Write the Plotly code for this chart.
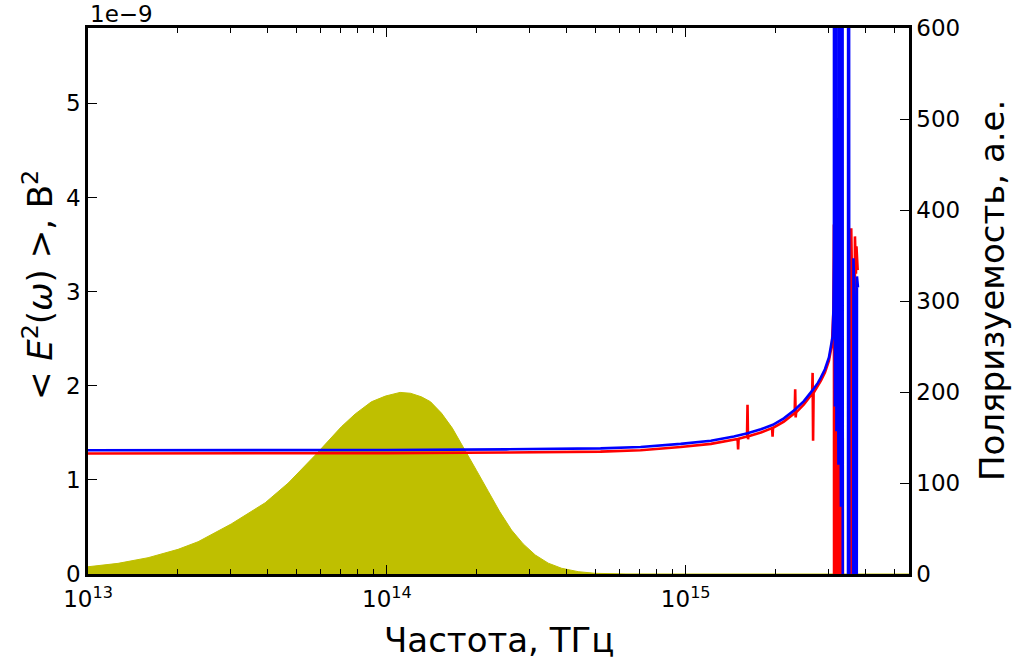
import plotly.graph_objects as go

# ---------------- data ----------------
# log10 of frequency for the spectrum (yellow fill), values in V^2
spec_lg = [13.000, 13.1005, 13.201, 13.3015, 13.3685, 13.479, 13.593, 13.670, 13.7605,
           13.8476, 13.894, 13.9481, 13.995, 14.0442, 14.079, 14.1156, 14.146, 14.1826,
           14.219, 14.262, 14.300, 14.340, 14.378, 14.4171, 14.456, 14.4965, 14.54,
           14.5846, 14.64, 14.6975, 14.80, 15.0, 15.75]
spec_val = [0.077e-9, 0.113e-9, 0.173e-9, 0.262e-9, 0.343e-9, 0.531e-9, 0.757e-9, 0.966e-9,
            1.263e-9, 1.564e-9, 1.70e-9, 1.829e-9, 1.89e-9, 1.929e-9, 1.92e-9, 1.882e-9,
            1.83e-9, 1.709e-9, 1.55e-9, 1.316e-9, 1.10e-9, 0.874e-9, 0.66e-9, 0.467e-9,
            0.32e-9, 0.202e-9, 0.115e-9, 0.061e-9, 0.025e-9, 0.007e-9, 0.001e-9, 0.0, 0.0]

# polarizability (a.u.), blue series, vs log10 frequency
blue_lg = [13.0, 13.5, 14.0, 14.4, 14.715, 14.849, 14.983, 15.084, 15.161, 15.2067,
           15.2513, 15.2915, 15.3283, 15.365, 15.3953, 15.4245, 15.4422, 15.4523, 15.4657,
           15.4791, 15.4915,
           15.49414, 15.49581, 15.49749, 15.49916, 15.50084, 15.50251, 15.50419, 15.50586,
           15.50754, 15.50921, 15.51089, 15.51256, 15.51424, 15.51591, 15.51759, 15.51926,
           15.52094, 15.52261, 15.52429, 15.52596, 15.54271, 15.54439, 15.54774, 15.55879,
           15.56114, 15.56449, 15.56549, 15.57119, 15.57286, 15.57621]
blue_val = [136, 136, 136.3, 137, 138, 139.5, 143, 146.5, 151, 154.6,
            159, 164, 171, 180.5, 190, 202, 210, 216, 225,
            238, 261,
            290, 349, 2500, 184, 340, 2500, 157, 330,
            160, 320, 120, 310, 2500, 120, 300, 74,
            290, 2500, 74, -500, -500, 2500, -500, -500,
            347, 300, -500, -500, 327, 315]

# polarizability (a.u.), red series, vs log10 frequency
red_lg = [13.0, 13.5, 14.0, 14.4, 14.715, 14.849, 14.983, 15.084, 15.161,
          15.1735, 15.1752, 15.1769, 15.2050, 15.2067, 15.2084, 15.2101,
          15.2513, 15.2888, 15.2905, 15.2921, 15.3283,
          15.3645, 15.3662, 15.3678, 15.3695, 15.3953,
          15.4228, 15.4245, 15.4261, 15.4278, 15.4422, 15.4523, 15.4657, 15.4791, 15.4891,
          15.49414, 15.49581, 15.49682, 15.49849, 15.50017, 15.50184, 15.50352, 15.50519,
          15.50687, 15.50854, 15.51022, 15.51189, 15.51357, 15.51524, 15.51692, 15.51859,
          15.52027, 15.52194, 15.52362, 15.52529, 15.52697, 15.55209, 15.55377, 15.55712,
          15.55879, 15.56382, 15.56616, 15.56951, 15.57119, 15.57521]
red_val = [132.5, 132.5, 132.8, 133.5, 134.5, 136, 139.5, 143, 147.5,
           148.3, 137, 148.7, 151, 186, 148, 151.3,
           155.5, 160.3, 151, 160.7, 167.5,
           176.8, 203, 172, 177.5, 186.5,
           198, 221, 146.5, 199, 206.5, 212.5, 221.5, 234.5, 252,
           290, 384, -500, 184, -500, 184, -500, 170,
           -500, 150, -500, 362, -500, 150, -500, 2500,
           -500, 150, -500, 150, -500, -500, 380, 300,
           -500, -500, 371, 330, 360, 334]

x_tick_vals = [1e13, 1e14, 1e15]
x_tick_text = ["10<sup>13</sup>", "10<sup>14</sup>", "10<sup>15</sup>"]
y_tick_vals = [0, 1e-9, 2e-9, 3e-9, 4e-9, 5e-9]
y_tick_text = ["0", "1", "2", "3", "4", "5"]
y2_tick_vals = [0, 100, 200, 300, 400, 500, 600]
minor_vals = [k * 10 ** d for d in (13, 14, 15) for k in range(2, 10) if k * 10 ** d < 5.6e15]

FONT = "DejaVu Sans"

fig = go.Figure()
fig.add_trace(go.Scatter(
    x=[10 ** v for v in spec_lg], y=spec_val, mode="lines", fill="tozeroy",
    fillcolor="#bfbf00", line=dict(color="#bfbf00", width=1),
    yaxis="y", hoverinfo="skip", showlegend=False))
fig.add_trace(go.Scatter(
    x=[10 ** v for v in red_lg], y=red_val, mode="lines",
    line=dict(color="#ff0000", width=2.6), yaxis="y2", showlegend=False))
fig.add_trace(go.Scatter(
    x=[10 ** v for v in blue_lg], y=blue_val, mode="lines",
    line=dict(color="#0000ff", width=2.6), yaxis="y2", showlegend=False))

fig.update_layout(
    width=1017, height=664,
    margin=dict(l=88, r=108, t=28, b=90),
    paper_bgcolor="white", plot_bgcolor="white",
    font=dict(family=FONT, size=23, color="black"),
    xaxis=dict(
        type="log", range=[13, 15.747], showgrid=False, zeroline=False,
        showline=True, linewidth=2.5, linecolor="black", mirror="ticks",
        ticks="inside", ticklen=9, tickwidth=1.2, tickcolor="black",
        tickvals=x_tick_vals, ticktext=x_tick_text, ticklabelstandoff=3,
        tickfont=dict(family=FONT, size=23),
        minor=dict(ticks="inside", ticklen=5, tickwidth=1.2, tickcolor="black",
                   tickvals=minor_vals, showgrid=False),
    ),
    yaxis=dict(
        range=[0, 5.8e-9], showgrid=False, zeroline=False,
        showline=True, linewidth=2.5, linecolor="black",
        ticks="inside", ticklen=9, tickwidth=1.2, tickcolor="black",
        tickvals=y_tick_vals, ticktext=y_tick_text,
        tickfont=dict(family=FONT, size=23),
    ),
    yaxis2=dict(
        overlaying="y", side="right", range=[0, 600], showgrid=False, zeroline=False,
        showline=True, linewidth=2.5, linecolor="black",
        ticks="inside", ticklen=9, tickwidth=1.2, tickcolor="black",
        tickvals=y2_tick_vals,
        tickfont=dict(family=FONT, size=23),
    ),
    annotations=[
        dict(text="Частота, ТГц", xref="paper", yref="paper", x=0.5, y=-0.12,
             xanchor="center", yanchor="middle", showarrow=False,
             font=dict(family=FONT, size=34)),
        dict(text="&lt; <i>E</i><sup>2</sup>(<i>ω</i>) &gt;, В<sup>2</sup>",
             xref="paper", yref="paper", x=-0.061, y=0.529, textangle=-90,
             xanchor="center", yanchor="middle", showarrow=False,
             font=dict(family=FONT, size=34)),
        dict(text="Поляризуемость, а.е.", xref="paper", yref="paper", x=1.101, y=0.52,
             textangle=-90, xanchor="center", yanchor="middle", showarrow=False,
             font=dict(family=FONT, size=34)),
        dict(text="1e−9", xref="paper", yref="paper", x=0.0, y=1.0,
             xanchor="left", yanchor="bottom", yshift=-1, showarrow=False,
             font=dict(family=FONT, size=23)),
    ],
)

fig.write_html("out.html")
